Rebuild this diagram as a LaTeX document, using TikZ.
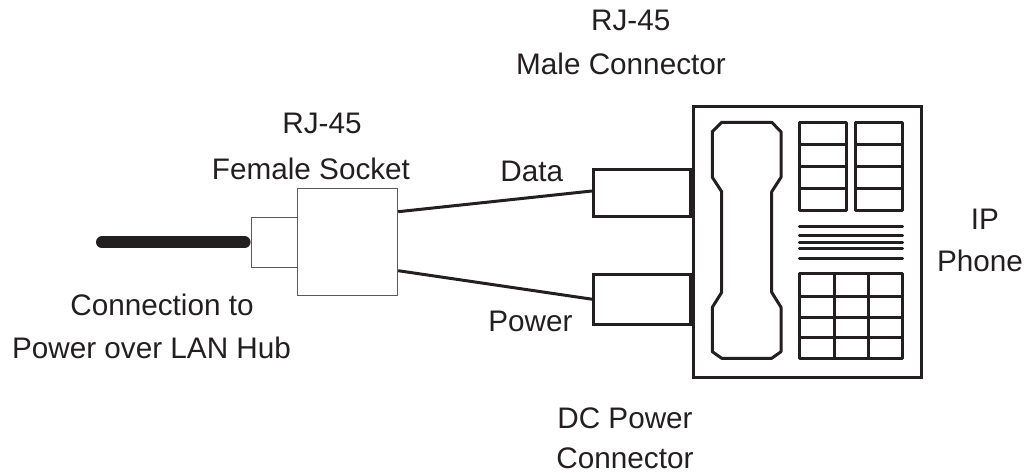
\documentclass[tikz,border=0pt]{standalone}
\usepackage{fontspec}
\setmainfont{Liberation Sans}
\definecolor{inkblack}{RGB}{35,31,32}
\definecolor{thingray}{RGB}{90,90,90}
\usetikzlibrary{positioning,calc}

\begin{document}
\begin{tikzpicture}[x=1pt, y=-1pt,
    lbl/.style={inner sep=0pt, anchor=base, font=\fontsize{29.7}{38}\selectfont, text=inkblack},
    thinbox/.style={rectangle, draw=thingray, fill=white, line width=1pt, inner sep=0pt, minimum width=#1},
    plugbox/.style={rectangle, draw=inkblack, fill=white, line width=3pt, inner sep=0pt, minimum width=97pt},
    wire/.style={draw=inkblack, line width=3pt},
    part/.style={draw=inkblack, line width=3pt, line join=round, line cap=round}]
\useasboundingbox (0,0) rectangle (1027,473);

% Socket and hub cable
\node[thinbox=46.7pt, minimum height=50pt] (jack) at (274.4,242.3) {};
\node[thinbox=100pt, minimum height=106.7pt] (socket) at (347.7,242.3) {};
\coordinate (cableend) at (102,242.3);
\draw[line width=12pt, draw=inkblack, line cap=round, shorten >=6pt] (cableend) -- (jack.west);

% Phone
\node[rectangle, draw=inkblack, fill=white, line width=3pt, inner sep=0pt,
      minimum width=228.7pt, minimum height=270pt] (phone) at (807.4,242) {};

% Plugs
\node[plugbox, minimum height=46.7pt] (dataplug) at (642,193.3) {};
\node[plugbox, minimum height=50.3pt] (powerplug) at (642,299.2) {};
\draw[line width=4.5pt, draw=inkblack] (dataplug.north east) -- (dataplug.south east);
\draw[line width=4.5pt, draw=inkblack] (powerplug.north east) -- (powerplug.south east);

% Wires
\draw[wire] ([yshift=30.6pt]socket.east) -- ([yshift=2.3pt]dataplug.west);
\draw[wire] ([yshift=-28.4pt]socket.east) -- (powerplug.west);

% Handset
\draw[part] (721.7,122.3) -- (771.7,122.3) -- (781,131.7) -- (781,177.3) -- (771.7,191.7)
    -- (771.7,292.3) -- (781,307.3) -- (781,351.7) -- (771.7,358.3) -- (721.7,358.3)
    -- (712.3,351.7) -- (712.3,307.3) -- (721.7,292.3) -- (721.7,191.7) -- (712.3,177.3)
    -- (712.3,131.7) -- cycle;

% Upper keys
\foreach \xa/\xb in {799.3/846.7, 855.7/902.7} {
    \draw[part] (\xa,122.3) rectangle (\xb,210.7);
    \foreach \yy in {144.3,166.7,188.7}
        \draw[part] (\xa,\yy) -- (\xb,\yy);
}

% Display lines
\foreach \yy in {226.3,235.7,242.3,248.7,258}
    \draw[part] (799.3,\yy) -- (902.7,\yy);

% Keypad
\draw[part] (799.3,273.3) rectangle (902.7,358.7);
\foreach \xx in {834,868.3}
    \draw[part] (\xx,273.3) -- (\xx,358.7);
\foreach \yy in {296,317.3,337}
    \draw[part] (799.3,\yy) -- (902.7,\yy);

% Labels
\node[lbl] (maleone) at (630.8,31) {RJ-45};
\node[lbl] (maletwo) at (621,75) {Male Connector};
\node[lbl] (femaleone) at (322,134) {RJ-45};
\node[lbl] (femaletwo) at (311,179) {Female Socket};
\node[lbl] (datalabel) at (531.7,181.7) {Data};
\node[lbl] (powerlabel) at (530.5,331) {Power};
\node[lbl] (hubone) at (162,315) {Connection to};
\node[lbl] (hubtwo) at (151.5,358.3) {Power over LAN Hub};
\node[lbl] (dcone) at (625,428.3) {DC Power};
\node[lbl] (dctwo) at (625,468.7) {Connector};
\node[lbl] (phoneone) at (985,229.3) {IP};
\node[lbl] (phonetwo) at (980,271) {Phone};
\end{tikzpicture}
\end{document}
